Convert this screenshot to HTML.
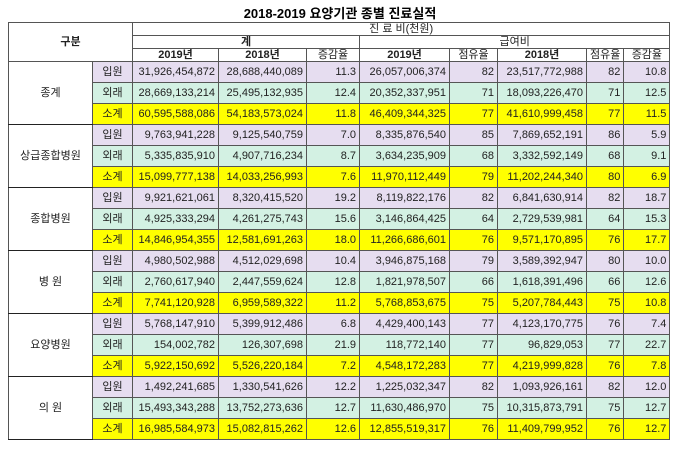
<!DOCTYPE html>
<html><head><meta charset="utf-8">
<style>
body{margin:0;background:#fff;width:680px;height:452px;overflow:hidden;font-family:"Liberation Sans","Noto Sans CJK KR",sans-serif;}
#title{position:absolute;left:0;width:680px;top:3px;text-align:center;font-weight:bold;font-size:13px;color:#000;}
table{position:absolute;left:8px;top:22px;border-collapse:collapse;table-layout:fixed;font-size:11px;color:#222;}
td{border:1px solid #555;padding:0 3px;white-space:nowrap;overflow:hidden;line-height:12px;}
.h{text-align:center;font-weight:bold;background:#fff;height:12px;}
.n{text-align:right;}
.c{text-align:center;}
.r0 td.v{background:#e6ddf0;}
.r1 td.v{background:#d3f1e3;}
.r2 td.v{background:#ffff00;}
tr.d td{height:20px;}
tr.gs td{border-top:1.5px solid #222;}
</style></head><body>
<div id="title">2018-2019 요양기관 종별 진료실적</div>
<table id="t">
<colgroup><col style="width:84px"><col style="width:40px"><col style="width:86px"><col style="width:88px"><col style="width:53px"><col style="width:90px"><col style="width:48px"><col style="width:89px"><col style="width:35px"><col style="width:46px"></colgroup>
<tr><td class="h" rowspan="3" colspan="2">구분</td><td class="h" colspan="8" style="font-weight:normal">진 료 비(천원)</td></tr>
<tr><td class="h" colspan="3">계</td><td class="h" colspan="5" style="font-weight:normal">급여비</td></tr>
<tr><td class="h">2019년</td><td class="h">2018년</td><td class="h" style="font-weight:normal">증감율</td><td class="h">2019년</td><td class="h" style="font-weight:normal">점유율</td><td class="h">2018년</td><td class="h" style="font-weight:normal">점유율</td><td class="h" style="font-weight:normal">증감율</td></tr>
</table>
<script>
const groups=["종계","상급종합병원","종합병원","병 원","요양병원","의 원"];
const subs=["입원","외래","소계"];
const total2019=["31,926,454,872","28,669,133,214","60,595,588,086","9,763,941,228","5,335,835,910","15,099,777,138","9,921,621,061","4,925,333,294","14,846,954,355","4,980,502,988","2,760,617,940","7,741,120,928","5,768,147,910","154,002,782","5,922,150,692","1,492,241,685","15,493,343,288","16,985,584,973"];
const total2018=["28,688,440,089","25,495,132,935","54,183,573,024","9,125,540,759","4,907,716,234","14,033,256,993","8,320,415,520","4,261,275,743","12,581,691,263","4,512,029,698","2,447,559,624","6,959,589,322","5,399,912,486","126,307,698","5,526,220,184","1,330,541,626","13,752,273,636","15,082,815,262"];
const totalGrowth=["11.3","12.4","11.8","7.0","8.7","7.6","19.2","15.6","18.0","10.4","12.8","11.2","6.8","21.9","7.2","12.2","12.7","12.6"];
const benefit2019=["26,057,006,374","20,352,337,951","46,409,344,325","8,335,876,540","3,634,235,909","11,970,112,449","8,119,822,176","3,146,864,425","11,266,686,601","3,946,875,168","1,821,978,507","5,768,853,675","4,429,400,143","118,772,140","4,548,172,283","1,225,032,347","11,630,486,970","12,855,519,317"];
const share2019=["82","71","77","85","68","79","82","64","76","79","66","75","77","77","77","82","75","76"];
const benefit2018=["23,517,772,988","18,093,226,470","41,610,999,458","7,869,652,191","3,332,592,149","11,202,244,340","6,841,630,914","2,729,539,981","9,571,170,895","3,589,392,947","1,618,391,496","5,207,784,443","4,123,170,775","96,829,053","4,219,999,828","1,093,926,161","10,315,873,791","11,409,799,952"];
const share2018=["82","71","77","86","68","80","82","64","76","80","66","75","76","77","76","82","75","76"];
const benefitGrowth=["10.8","12.5","11.5","5.9","9.1","6.9","18.7","15.3","17.7","10.0","12.6","10.8","7.4","22.7","7.8","12.0","12.7","12.7"];
const t=document.getElementById('t');
for(let i=0;i<18;i++){
  const g=Math.floor(i/3),s=i%3;
  const tr=document.createElement('tr');
  tr.className='d r'+s+(s===0?' gs':'');
  
  
  if(s===0){
    const gc=document.createElement('td');
    gc.rowSpan=3;gc.className='c';gc.textContent=groups[g];
    gc.style.borderBottom='1.5px solid #222';
    
    
    tr.appendChild(gc);
  }
  const vals=[subs[s],total2019[i],total2018[i],totalGrowth[i],benefit2019[i],share2019[i],benefit2018[i],share2018[i],benefitGrowth[i]];
  vals.forEach((v,k)=>{
    const td=document.createElement('td');
    td.className='v '+(k===0?'c':'n');
    td.textContent=v;
    
    
    tr.appendChild(td);
  });
  t.appendChild(tr);
}
</script>
</body></html>
